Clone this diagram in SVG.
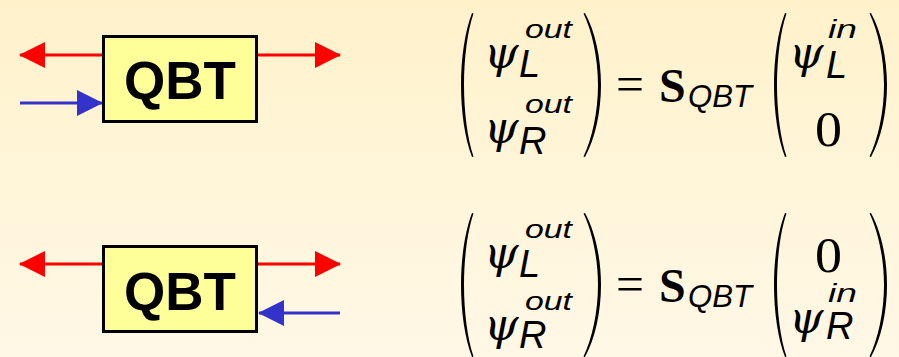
<svg xmlns="http://www.w3.org/2000/svg" width="899" height="357" viewBox="0 0 899 357">
<defs>
<linearGradient id="bg" x1="0" y1="0" x2="0" y2="1">
<stop offset="0" stop-color="#FFF2CB"/>
<stop offset="1" stop-color="#FFF8E6"/>
</linearGradient>
<marker id="ahR" markerUnits="userSpaceOnUse" markerWidth="26" markerHeight="26" refX="25" refY="13" orient="auto" viewBox="0 0 26 26">
<path d="M0,0 L26,13 L0,26 Z" fill="#FF0000"/>
</marker>
<marker id="ahB" markerUnits="userSpaceOnUse" markerWidth="26" markerHeight="26" refX="25" refY="13" orient="auto" viewBox="0 0 26 26">
<path d="M0,0 L26,13 L0,26 Z" fill="#3333CC"/>
</marker>
<path id="lp" d="M11,0 C4,18 0,45 0,72 C0,99 4,126 11,144 L12.5,143.5 C6.5,126 3,99 3,72 C3,45 6.5,18 12.5,0.5 Z" fill="#000"/>
<path id="rp" d="M0,0 C10,18 16,45 16,72 C16,99 10,126 0,144 L-1.5,143.5 C7,126 13,99 13,72 C13,45 7,18 -1.5,0.5 Z" fill="#000"/>
<style>
.box{fill:#FFFF99;stroke:#000;stroke-width:3}
.lbl{font-family:"Liberation Sans",Arial,sans-serif;font-weight:bold;font-size:53px;fill:#000}
.red{stroke:#FF0000;stroke-width:3;fill:none}
.blue{stroke:#3333CC;stroke-width:3;fill:none}
.psi{font-family:"DejaVu Serif","Liberation Serif",serif;font-style:italic;font-size:44px;fill:#000}
.sup{font-family:"Liberation Sans",Arial,sans-serif;font-style:italic;font-size:25px;fill:#000}
.sub{font-family:"Liberation Sans",Arial,sans-serif;font-style:italic;font-size:38px;fill:#000}
.rm{font-family:"Liberation Serif","Times New Roman",serif;font-size:50px;fill:#000}
.bS{font-family:"Liberation Serif","Times New Roman",serif;font-weight:bold;font-size:48px;fill:#000}
.qs{font-family:"Liberation Sans",Arial,sans-serif;font-style:italic;font-size:32px;fill:#000}
</style>
</defs>
<rect x="0" y="0" width="899" height="357" fill="url(#bg)"/>

<g id="connectors">
<line class="red" x1="102" y1="55" x2="20" y2="55" marker-end="url(#ahR)"/>
<line class="red" x1="258" y1="55" x2="340" y2="55" marker-end="url(#ahR)"/>
<line class="blue" x1="20" y1="103" x2="102" y2="103" marker-end="url(#ahB)"/>
<line class="red" x1="102" y1="264" x2="20" y2="264" marker-end="url(#ahR)"/>
<line class="red" x1="258" y1="264" x2="340" y2="264" marker-end="url(#ahR)"/>
<line class="blue" x1="340" y1="313" x2="259" y2="313" marker-end="url(#ahB)"/>
</g>

<g id="qbt-top">
<rect class="box" x="103.5" y="36.5" width="153" height="85"/>
<text class="lbl" x="180" y="99" text-anchor="middle">QBT</text>
</g>
<g id="qbt-bottom">
<rect class="box" x="103.5" y="246.5" width="153" height="85"/>
<text class="lbl" x="180" y="310" text-anchor="middle">QBT</text>
</g>

<g id="eq-top">
<use href="#lp" x="461" y="13"/>
<use href="#rp" x="585" y="13"/>
<text class="psi" x="484" y="68">ψ</text>
<text class="sup" x="525" y="38" textLength="47" lengthAdjust="spacingAndGlyphs">out</text>
<text class="sub" x="519" y="77">L</text>
<text class="psi" x="484" y="143">ψ</text>
<text class="sup" x="525" y="113" textLength="47" lengthAdjust="spacingAndGlyphs">out</text>
<text class="sub" x="519" y="154">R</text>
<text class="rm" x="616" y="101" textLength="28" lengthAdjust="spacingAndGlyphs">=</text>
<text class="bS" x="659" y="102">S</text>
<text class="qs" x="688" y="107" textLength="64" lengthAdjust="spacingAndGlyphs">QBT</text>
<use href="#lp" x="774" y="13"/>
<use href="#rp" x="871" y="13"/>
<text class="psi" x="789" y="68">ψ</text>
<text class="sup" x="828" y="38" textLength="29" lengthAdjust="spacingAndGlyphs">in</text>
<text class="sub" x="826" y="78">L</text>
<text class="rm" x="815" y="146" textLength="27" lengthAdjust="spacingAndGlyphs">0</text>
</g>

<g id="eq-bottom">
<use href="#lp" x="461" y="213"/>
<use href="#rp" x="585" y="213"/>
<text class="psi" x="484" y="268">ψ</text>
<text class="sup" x="525" y="238" textLength="47" lengthAdjust="spacingAndGlyphs">out</text>
<text class="sub" x="519" y="277">L</text>
<text class="psi" x="484" y="340">ψ</text>
<text class="sup" x="525" y="310" textLength="47" lengthAdjust="spacingAndGlyphs">out</text>
<text class="sub" x="519" y="348">R</text>
<text class="rm" x="616" y="301" textLength="28" lengthAdjust="spacingAndGlyphs">=</text>
<text class="bS" x="659" y="302">S</text>
<text class="qs" x="688" y="307" textLength="64" lengthAdjust="spacingAndGlyphs">QBT</text>
<use href="#lp" x="774" y="213"/>
<use href="#rp" x="871" y="213"/>
<text class="rm" x="815" y="272" textLength="27" lengthAdjust="spacingAndGlyphs">0</text>
<text class="psi" x="789" y="333">ψ</text>
<text class="sup" x="828" y="302" textLength="29" lengthAdjust="spacingAndGlyphs">in</text>
<text class="sub" x="826" y="339">R</text>
</g>
</svg>
